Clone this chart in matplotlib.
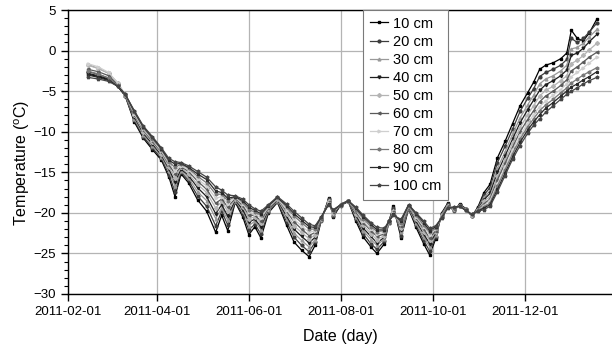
import numpy as np
import pandas as pd
import matplotlib
matplotlib.use("Agg")
import matplotlib.pyplot as plt
import matplotlib.dates as mdates

plt.rcParams['font.family'] = ['Liberation Sans', 'DejaVu Sans']
plt.rcParams['mathtext.fontset'] = 'custom'
plt.rcParams['mathtext.rm'] = 'Liberation Sans'

day_offsets = [13, 20, 27, 33, 38, 44, 50, 56, 62, 67, 71, 75, 80, 86, 92, 98, 102, 106,
               111, 116, 120, 124, 128, 133, 139, 145, 150, 155, 160, 164, 168, 173, 176,
               181, 186, 191, 196, 201, 205, 210, 213, 216, 221, 226, 231, 236, 240, 244,
               248, 252, 256, 260, 264, 268, 272, 276, 280, 285, 290, 295, 300, 305, 309,
               313, 317, 322, 327, 331, 334, 338, 342, 346, 351]

depths = ['10 cm', '20 cm', '30 cm', '40 cm', '50 cm', '60 cm', '70 cm', '80 cm', '90 cm', '100 cm']

t10 = [-2.9, -3.2, -3.6, -4.4, -5.6, -8.8, -10.8, -12.2, -13.5, -15.6, -18.0, -15.2, -16.3,
       -18.4, -19.8, -22.4, -20.3, -22.2, -18.7, -20.5, -22.7, -21.7, -23.1, -20.0, -18.7,
       -21.5, -23.6, -24.6, -25.4, -24.0, -21.0, -18.2, -20.5, -19.0, -18.6, -21.0, -23.0,
       -24.2, -25.0, -23.8, -21.0, -19.2, -23.1, -19.5, -21.8, -23.8, -25.2, -23.2, -20.0,
       -18.8, -19.8, -18.9, -19.5, -20.4, -19.3, -17.5, -16.5, -13.2, -11.2, -9.0, -6.8,
       -5.2, -3.9, -2.3, -1.8, -1.5, -1.0, -0.3, 2.5, 1.5, 1.2, 2.2, 3.9]
t20 = [-2.6, -2.9, -3.4, -4.3, -5.6, -8.6, -10.6, -12.0, -13.3, -15.3, -17.4, -15.0, -16.0,
       -17.9, -19.2, -21.6, -19.8, -21.5, -18.6, -20.2, -22.1, -21.4, -22.6, -19.9, -18.6,
       -21.1, -23.0, -24.0, -24.8, -23.6, -20.9, -18.3, -20.4, -19.0, -18.6, -20.7, -22.6,
       -23.8, -24.5, -23.5, -21.0, -19.4, -22.8, -19.4, -21.5, -23.4, -24.7, -23.0, -20.1,
       -18.9, -19.7, -19.0, -19.5, -20.4, -19.4, -17.8, -16.9, -13.8, -11.8, -9.7, -7.5,
       -5.9, -4.7, -3.2, -2.7, -2.3, -1.8, -1.1, 1.5, 1.0, 1.5, 2.3, 3.4]
t30 = [-1.7, -2.2, -2.8, -4.0, -5.5, -8.4, -10.4, -11.7, -13.1, -14.9, -16.7, -14.8, -15.7,
       -17.4, -18.5, -20.7, -19.4, -20.9, -18.5, -19.8, -21.6, -21.0, -22.1, -19.7, -18.5,
       -20.7, -22.5, -23.4, -24.2, -23.3, -20.9, -18.4, -20.2, -18.9, -18.6, -20.5, -22.2,
       -23.3, -24.0, -23.2, -21.1, -19.5, -22.4, -19.4, -21.3, -23.0, -24.2, -22.7, -20.2,
       -19.0, -19.7, -19.0, -19.6, -20.3, -19.5, -18.1, -17.3, -14.5, -12.5, -10.3, -8.3,
       -6.7, -5.5, -4.1, -3.5, -3.1, -2.5, -1.8, 0.2, 0.4, 0.9, 1.7, 2.6]
t40 = [-2.8, -3.1, -3.5, -4.4, -5.5, -8.2, -10.2, -11.5, -12.9, -14.6, -16.2, -14.6, -15.4,
       -16.9, -18.0, -20.1, -19.0, -20.4, -18.4, -19.6, -21.1, -20.8, -21.7, -19.6, -18.4,
       -20.4, -22.0, -22.9, -23.7, -23.0, -20.8, -18.5, -20.1, -19.1, -18.6, -20.3, -21.9,
       -22.9, -23.7, -23.0, -21.1, -19.7, -22.1, -19.3, -21.0, -22.6, -23.8, -22.5, -20.3,
       -19.1, -19.6, -19.0, -19.6, -20.3, -19.5, -18.4, -17.6, -15.0, -13.0, -10.9, -8.9,
       -7.3, -6.1, -4.9, -4.2, -3.7, -3.1, -2.4, -0.6, -0.3, 0.3, 1.1, 2.0]
t50 = [-1.8, -2.2, -2.8, -4.0, -5.5, -8.0, -10.0, -11.3, -12.7, -14.4, -15.7, -14.4, -15.2,
       -16.5, -17.5, -19.4, -18.6, -19.8, -18.3, -19.3, -20.7, -20.5, -21.3, -19.5, -18.3,
       -20.1, -21.6, -22.4, -23.2, -22.7, -20.7, -18.6, -20.0, -19.0, -18.5, -20.1, -21.5,
       -22.6, -23.3, -22.8, -21.2, -19.8, -21.9, -19.2, -20.8, -22.3, -23.4, -22.3, -20.3,
       -19.1, -19.5, -19.1, -19.6, -20.3, -19.6, -18.6, -18.0, -15.5, -13.5, -11.4, -9.5,
       -7.9, -6.8, -5.6, -4.9, -4.4, -3.7, -3.1, -1.6, -1.2, -0.6, 0.1, 0.9]
t60 = [-2.3, -2.6, -3.1, -4.2, -5.5, -7.9, -9.8, -11.2, -12.5, -14.1, -15.2, -14.3, -14.9,
       -16.1, -17.1, -18.8, -18.3, -19.3, -18.2, -19.1, -20.3, -20.3, -21.0, -19.4, -18.2,
       -19.8, -21.1, -22.0, -22.8, -22.4, -20.7, -18.7, -19.9, -18.9, -18.5, -19.9, -21.2,
       -22.2, -22.9, -22.6, -21.2, -19.9, -21.6, -19.2, -20.6, -22.0, -23.1, -22.2, -20.4,
       -19.2, -19.5, -19.1, -19.6, -20.3, -19.6, -18.9, -18.3, -15.9, -13.9, -11.9, -10.0,
       -8.5, -7.4, -6.3, -5.6, -5.0, -4.3, -3.6, -2.5, -2.0, -1.4, -0.8, -0.2]
t70 = [-1.6, -2.0, -2.7, -4.0, -5.4, -7.8, -9.7, -11.0, -12.4, -13.9, -14.8, -14.2, -14.7,
       -15.8, -16.7, -18.2, -18.0, -18.9, -18.1, -18.9, -19.9, -20.1, -20.6, -19.3, -18.2,
       -19.6, -20.8, -21.6, -22.4, -22.2, -20.6, -18.8, -19.8, -19.0, -18.5, -19.7, -21.0,
       -22.0, -22.6, -22.4, -21.1, -20.0, -21.4, -19.1, -20.5, -21.7, -22.7, -22.0, -20.5,
       -19.3, -19.4, -19.1, -19.7, -20.3, -19.7, -19.1, -18.5, -16.4, -14.4, -12.3, -10.5,
       -9.0, -7.9, -6.9, -6.2, -5.5, -4.8, -4.1, -3.2, -2.7, -2.1, -1.5, -0.8]
t80 = [-2.5, -2.9, -3.4, -4.3, -5.4, -7.6, -9.5, -10.9, -12.2, -13.7, -14.4, -14.0, -14.5,
       -15.5, -16.3, -17.7, -17.7, -18.5, -18.0, -18.7, -19.6, -19.9, -20.3, -19.2, -18.1,
       -19.3, -20.4, -21.2, -22.0, -22.0, -20.6, -18.9, -19.7, -19.1, -18.5, -19.6, -20.7,
       -21.7, -22.3, -22.2, -21.1, -20.1, -21.2, -19.1, -20.3, -21.5, -22.4, -21.9, -20.5,
       -19.3, -19.4, -19.2, -19.7, -20.2, -19.7, -19.3, -18.8, -16.7, -14.7, -12.7, -10.9,
       -9.4, -8.4, -7.4, -6.7, -6.0, -5.2, -4.6, -4.0, -3.5, -3.0, -2.6, -2.1]
t90 = [-3.0, -3.3, -3.7, -4.4, -5.4, -7.5, -9.4, -10.7, -12.1, -13.5, -14.0, -13.9, -14.4,
       -15.2, -15.9, -17.3, -17.5, -18.2, -18.0, -18.5, -19.3, -19.7, -20.1, -19.1, -18.1,
       -19.1, -20.1, -20.9, -21.7, -21.8, -20.5, -18.9, -19.7, -19.0, -18.5, -19.4, -20.5,
       -21.4, -22.1, -22.1, -21.0, -20.2, -21.0, -19.0, -20.1, -21.2, -22.2, -21.7, -20.6,
       -19.4, -19.3, -19.2, -19.7, -20.2, -19.8, -19.4, -19.0, -17.1, -15.1, -13.1, -11.3,
       -9.8, -8.8, -7.9, -7.1, -6.4, -5.6, -5.0, -4.5, -4.1, -3.6, -3.2, -2.6]
t100 = [-3.3, -3.5, -3.8, -4.4, -5.4, -7.4, -9.3, -10.6, -12.0, -13.3, -13.7, -13.8, -14.2,
        -14.9, -15.6, -16.8, -17.2, -17.8, -17.9, -18.3, -19.0, -19.5, -19.8, -19.0, -18.0,
        -18.9, -19.8, -20.6, -21.4, -21.6, -20.5, -19.0, -19.6, -19.0, -18.5, -19.3, -20.3,
        -21.2, -21.8, -21.9, -21.0, -20.3, -20.8, -19.0, -20.0, -21.0, -21.9, -21.6, -20.6,
        -19.4, -19.3, -19.2, -19.7, -20.2, -19.8, -19.6, -19.2, -17.4, -15.4, -13.4, -11.7,
        -10.2, -9.2, -8.4, -7.6, -6.8, -6.0, -5.4, -5.0, -4.6, -4.1, -3.7, -3.3]

series = [t10, t20, t30, t40, t50, t60, t70, t80, t90, t100]
colors = ['#000000', '#3c3c3c', '#999999', '#1e1e1e', '#b4b4b4',
          '#5a5a5a', '#cfcfcf', '#787878', '#2a2a2a', '#444444']
markers = ['s', 'o', '^', 'v', 'D', '<', '>', 'h', '*', 'p']

dates = pd.Timestamp('2011-02-01') + pd.to_timedelta(day_offsets, unit='D')
df = pd.DataFrame(dict(zip(depths, series)), index=dates)

fig = plt.figure(figsize=(6.12, 3.48), dpi=100)
ax = fig.add_axes([68 / 612, 1 - 294 / 348, 1 - 68 / 612, (294 - 10) / 348])

for name, c, m in zip(depths, colors, markers):
    ax.plot(df.index, df[name], color=c, lw=0.9, marker=m, ms=2.0,
            mec=c, mfc=c, label=name)

ax.set_xlim(pd.Timestamp('2011-02-01'), pd.Timestamp('2012-01-28'))
ax.set_ylim(-30, 5)
ax.xaxis.set_major_locator(mdates.MonthLocator(bymonth=[2, 4, 6, 8, 10, 12]))
ax.xaxis.set_major_formatter(mdates.DateFormatter('%Y-%m-%d'))
ax.set_yticks(np.arange(-30, 6, 5))
ax.set_yticks(np.arange(-30, 6, 1), minor=True)
ax.tick_params(axis='both', which='major', direction='out', length=5, width=1,
               labelsize=9.5, colors='black')
ax.tick_params(axis='y', which='minor', direction='out', length=3, width=0.8)
ax.grid(True, which='major', color='#b4b4b4', lw=0.9)
ax.set_axisbelow(True)

for s in ['left', 'bottom', 'top']:
    ax.spines[s].set_linewidth(1.0)
ax.spines['right'].set_visible(False)

ax.set_xlabel('Date (day)', fontsize=11.5, labelpad=8)
ax.set_ylabel(r'Temperature ($^{\mathrm{o}}$C)', fontsize=11.5)
ax.yaxis.set_label_coords(-0.066, 0.46)

leg = ax.legend(loc='upper left', bbox_to_anchor=((363 - 68) / 544, 1.0),
                borderaxespad=0, fancybox=False, framealpha=1, edgecolor='#7a7a7a',
                fontsize=10.5, handlelength=1.25, handletextpad=0.35,
                labelspacing=0.28, borderpad=0.45, markerscale=1.0)
leg.get_frame().set_linewidth(0.8)

fig.savefig('out.png', dpi=100)
